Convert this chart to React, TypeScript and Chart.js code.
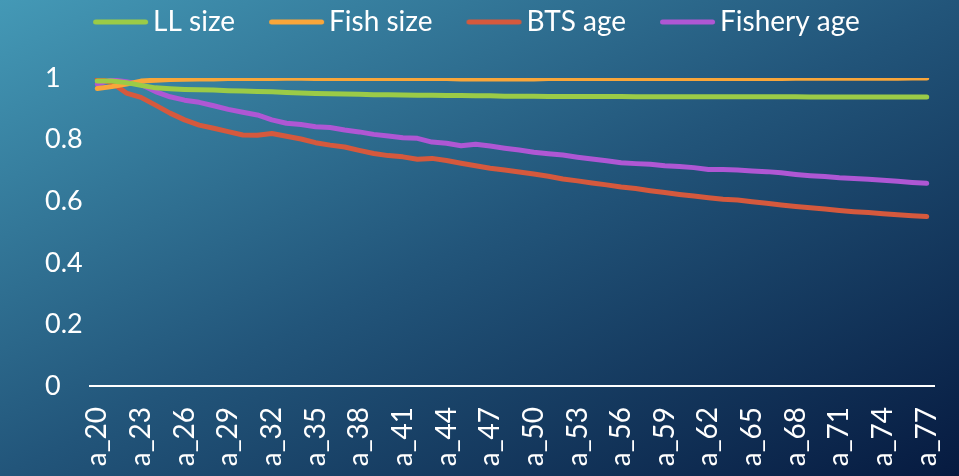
import React, { useEffect, useRef } from "react";
import { Chart, registerables } from "chart.js";

Chart.register(...registerables);

const categories = [
  "a_20","a_21","a_22","a_23","a_24","a_25","a_26","a_27","a_28","a_29",
  "a_30","a_31","a_32","a_33","a_34","a_35","a_36","a_37","a_38","a_39",
  "a_40","a_41","a_42","a_43","a_44","a_45","a_46","a_47","a_48","a_49",
  "a_50","a_51","a_52","a_53","a_54","a_55","a_56","a_57","a_58","a_59",
  "a_60","a_61","a_62","a_63","a_64","a_65","a_66","a_67","a_68","a_69",
  "a_70","a_71","a_72","a_73","a_74","a_75","a_76","a_77",
];

const llSize = [
  0.99,0.99,0.985,0.976,0.968,0.965,0.963,0.962,0.961,0.959,
  0.958,0.956,0.955,0.953,0.951,0.950,0.949,0.948,0.947,0.946,
  0.946,0.945,0.944,0.944,0.943,0.943,0.942,0.942,0.941,0.941,
  0.941,0.940,0.940,0.940,0.940,0.940,0.940,0.939,0.939,0.939,
  0.939,0.939,0.939,0.939,0.939,0.939,0.939,0.939,0.939,0.938,
  0.938,0.938,0.938,0.938,0.938,0.938,0.938,0.938,
];

const fishSize = [
  0.966,0.972,0.98,0.99,0.993,0.995,0.996,0.997,0.997,0.998,
  0.998,0.998,0.998,0.999,0.999,0.998,0.998,0.998,0.998,0.998,
  0.998,0.998,0.998,0.998,0.998,0.997,0.997,0.997,0.997,0.997,
  0.997,0.998,0.998,0.998,0.998,0.998,0.998,0.998,0.998,0.998,
  0.998,0.998,0.998,0.998,0.998,0.998,0.998,0.998,0.999,0.999,
  0.999,0.999,0.999,0.999,0.999,0.999,1.0,1.0,
];

const btsAge = [
  0.998,0.985,0.951,0.937,0.912,0.886,0.864,0.847,0.837,0.826,
  0.815,0.814,0.820,0.811,0.802,0.790,0.782,0.776,0.765,0.755,
  0.748,0.744,0.736,0.739,0.732,0.723,0.715,0.707,0.701,0.695,
  0.688,0.681,0.672,0.666,0.659,0.653,0.646,0.641,0.634,0.628,
  0.622,0.617,0.611,0.606,0.604,0.598,0.593,0.588,0.583,0.579,
  0.575,0.570,0.566,0.563,0.559,0.556,0.553,0.550,
];

const fisheryAge = [
  0.98,0.994,0.988,0.979,0.956,0.939,0.928,0.921,0.910,0.898,
  0.889,0.880,0.864,0.853,0.849,0.842,0.839,0.831,0.825,0.817,
  0.812,0.806,0.804,0.792,0.788,0.780,0.785,0.779,0.772,0.766,
  0.759,0.754,0.750,0.743,0.737,0.731,0.725,0.722,0.720,0.715,
  0.713,0.709,0.703,0.703,0.701,0.698,0.696,0.692,0.687,0.683,
  0.680,0.676,0.674,0.671,0.668,0.665,0.661,0.658,
];

const yTicks = [0, 0.2, 0.4, 0.6, 0.8, 1];
const seriesNames = ["LL size", "Fish size", "BTS age", "Fishery age"];
const seriesColors = ["#9BCB47", "#F9A63A", "#D5593D", "#AF57D4"];

const FONT = "Lato, 'Open Sans', sans-serif";
const LEGEND_FONT = 28;
const LEGEND_PAD = 8;
const LEGEND_GAP = 26; // blank space before each legend line sample
const LEGEND_BOX = 72;

function makeLegendLine(color: string): HTMLCanvasElement {
  const c = document.createElement("canvas");
  c.width = 100;
  c.height = 10;
  const ctx = c.getContext("2d")!;
  const imgLeft = LEGEND_BOX / 2 - c.width / 2; // relative to item x
  const start = LEGEND_GAP + 2.5 - imgLeft;
  ctx.strokeStyle = color;
  ctx.lineWidth = 5;
  ctx.lineCap = "round";
  ctx.beginPath();
  ctx.moveTo(start, 5);
  ctx.lineTo(start + 50, 5);
  ctx.stroke();
  return c;
}

export default function App() {
  const canvasRef = useRef<HTMLCanvasElement | null>(null);

  useEffect(() => {
    const canvas = canvasRef.current;
    if (!canvas) return;
    const values = [llSize, fishSize, btsAge, fisheryAge];

    const legendLayout = {
      id: "legendLayout",
      beforeInit(chart: any) {
        const legend = chart.legend;
        if (!legend) return;
        const origFit = legend.fit;
        legend.fit = function () {
          origFit.call(this);
          this.height = 78;
        };
      },
      afterLayout(chart: any) {
        const legend = chart.legend;
        if (!legend) return;
        legend.left -= 26;
        legend.right -= 26;
      },
    };

    const chart = new Chart(canvas, {
      type: "line",
      data: {
        labels: categories,
        datasets: values.map((d, i) => ({
          label: seriesNames[i],
          data: d,
          borderColor: seriesColors[i],
          backgroundColor: seriesColors[i],
          borderWidth: 5,
          pointRadius: 0,
          pointStyle: makeLegendLine(seriesColors[i]),
          tension: 0,
          borderCapStyle: "round",
          borderJoinStyle: "round",
          fill: false,
        })),
      },
      options: {
        responsive: false,
        animation: false,
        layout: { padding: { left: 45, right: 25, top: 0, bottom: 0 } },
        plugins: {
          tooltip: { enabled: false },
          legend: {
            position: "top",
            labels: {
              color: "#FFFFFF",
              font: { family: FONT, size: LEGEND_FONT },
              usePointStyle: true,
              pointStyleWidth: LEGEND_BOX,
              padding: LEGEND_PAD,
            },
          },
        },
        scales: {
          x: {
            offset: true,
            grid: { display: false, drawTicks: false },
            border: { display: true, color: "#FFFFFF", width: 2 },
            ticks: {
              color: "#FFFFFF",
              font: { family: FONT, size: 28 },
              autoSkip: false,
              maxRotation: 90,
              minRotation: 90,
              padding: 21,
              callback: (_v: any, idx: number) => (idx % 3 === 0 ? categories[idx] : ""),
            },
            afterFit: (scale: any) => {
              scale.height = 90;
              scale.paddingRight = 0;
              scale.paddingLeft = 0;
            },
          },
          y: {
            min: 0,
            max: 1,
            grid: { display: false, drawTicks: false },
            border: { display: false },
            afterBuildTicks: (scale: any) => {
              scale.ticks = yTicks.map((v) => ({ value: v }));
            },
            ticks: {
              color: "#FFFFFF",
              font: { family: FONT, size: 27 },
              crossAlign: "far",
              callback: (v: any) => String(Math.round(Number(v) * 10) / 10),
            },
            afterFit: (scale: any) => {
              scale.width = 45;
            },
          },
        },
      },
      plugins: [legendLayout],
    });
    return () => chart.destroy();
  }, []);

  return (
    <div
      style={{
        position: "fixed",
        left: 0,
        top: 0,
        width: 959,
        height: 476,
        background: "linear-gradient(to bottom right, #4499B6 0%, #22557A 50%, #061A40 100%)",
      }}
    >
      <canvas ref={canvasRef} width={959} height={476} style={{ display: "block" }} />
    </div>
  );
}
